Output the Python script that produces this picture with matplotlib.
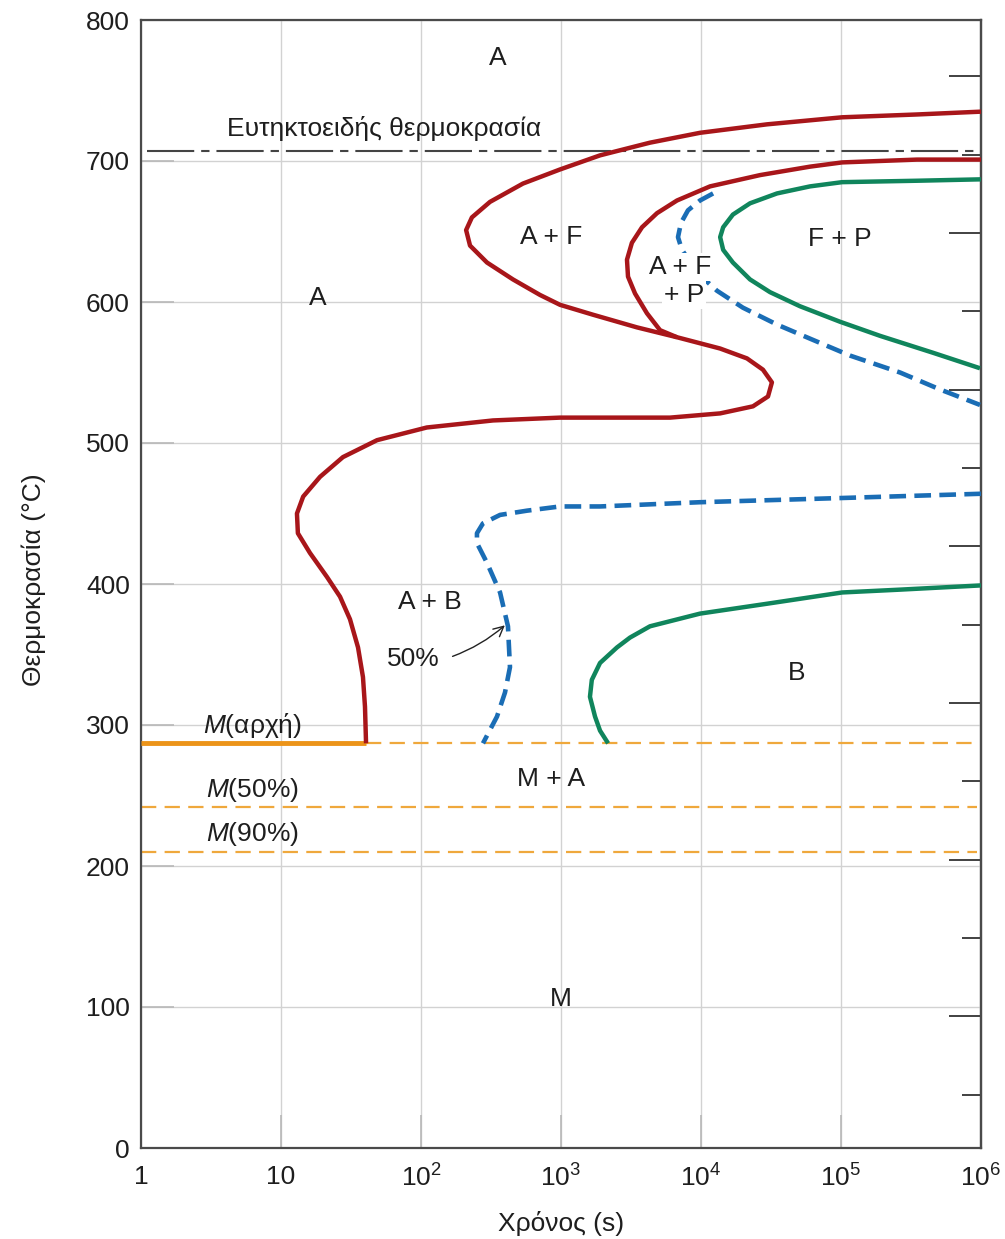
import numpy as np
import matplotlib
matplotlib.use("Agg")
import matplotlib.pyplot as plt
from matplotlib.ticker import FixedLocator, FixedFormatter, NullFormatter, NullLocator

plt.rcParams['font.family'] = ['Liberation Sans', 'DejaVu Sans']
plt.rcParams['mathtext.fontset'] = 'custom'
plt.rcParams['mathtext.rm'] = 'Liberation Sans'
plt.rcParams['mathtext.it'] = 'Liberation Sans:italic'
plt.rcParams['lines.scale_dashes'] = False

# ferrite start, running on into the bainite start (one curve)
start_t = [1e6, 3.49e5, 1.02e5, 2.96e4, 9840, 4320, 1900, 984, 535, 311, 231, 210, 224,
           296, 454, 708, 984, 1690, 3490, 6740, 1.37e4, 2.13e4, 2.77e4, 3.21e4,
           3.01e4, 2.35e4, 1.37e4, 6010, 984, 327, 110, 48.5, 27.7, 19.0, 14.4,
           13.0, 13.2, 16.1, 21.3, 26.4, 31.1, 35.5, 38.5, 39.8, 40.5]
start_T = [735, 733, 731, 726, 720, 713, 704, 694, 684, 671, 660, 651, 640,
           628, 616, 605, 598, 591, 582, 575, 567, 560, 552, 543,
           533, 526, 521, 518, 518, 516, 511, 502, 490, 476, 462,
           450, 436, 422, 405, 391, 375, 355, 334, 313, 287]

# pearlite start
pearl_t = [1e6, 3.49e5, 1.02e5, 6.01e4, 2.64e4, 1.16e4, 6740, 4850, 3790, 3210,
           2960, 3010, 3380, 4110, 5100, 6740]
pearl_T = [701, 701, 699, 696, 690, 682, 672, 663, 653, 642,
           630, 618, 606, 592, 580, 575]

# 50 % pearlite
p50_t = [1.22e4, 9840, 8070, 7190, 6850, 7310, 9360, 1.30e4, 1.99e4, 3.49e4, 6.01e4,
         1.16e5, 2.64e5, 5.09e5, 9.84e5]
p50_T = [677, 672, 665, 656, 646, 637, 621, 608, 596, 584, 574,
         562, 550, 538, 527]

# ferrite + pearlite finish
fp_t = [1e6, 3.49e5, 1.02e5, 6.01e4, 3.49e4, 2.24e4, 1.69e4, 1.44e4, 1.37e4, 1.44e4,
        1.69e4, 2.24e4, 3.11e4, 5.09e4, 9.84e4, 1.9e5, 4.54e5, 9.84e5]
fp_T = [687, 686, 685, 682, 677, 670, 662, 653, 646, 637,
        628, 616, 607, 597, 586, 576, 564, 553]

# 50 % bainite
b50_t = [1e6, 1.02e5, 9840, 1900, 984, 571, 367, 277, 251, 251, 296, 367, 418, 432,
         398, 349, 277]
b50_T = [464, 461, 458, 455, 455, 452, 449, 443, 436, 429, 415, 394, 370, 341,
         323, 306, 287]

# bainite finish
bf_t = [1e6, 2.64e5, 1.02e5, 2.96e4, 9840, 4320, 3110, 2510, 1900, 1660, 1610,
        1750, 1900, 2170]
bf_T = [399, 396, 394, 386, 379, 370, 362, 355, 344, 332, 320,
        306, 296, 287]

eutectoid_T = 707
ms_T, m50_T, m90_T = 287, 242, 210
ms_end_t = 40.5
line_end_t = 9.4e5

xtick_vals = [1, 10, 1e2, 1e3, 1e4, 1e5, 1e6]
xtick_labels = ['1', '10', r'$\mathregular{10^2}$', r'$\mathregular{10^3}$',
                r'$\mathregular{10^4}$', r'$\mathregular{10^5}$', r'$\mathregular{10^6}$']
ytick_vals = [0, 100, 200, 300, 400, 500, 600, 700, 800]

red = '#A8161A'
green = '#10855C'
blue = '#1A6DB5'
orange = '#EC9419'
orange_light = '#EFA83C'
txt = '#1e1e1e'

fig = plt.figure(figsize=(10.05, 12.39), dpi=100)
ax = fig.add_axes([141 / 1005, 1 - 1148 / 1239, 840 / 1005, 1128 / 1239])
ax.set_xscale('log')
ax.set_xlim(1, 1e6)
ax.set_ylim(0, 800)

ax.set_axisbelow(True)
ax.grid(True, color='#d2d2d2', lw=1.0)
ax.xaxis.set_major_locator(FixedLocator(xtick_vals))
ax.xaxis.set_major_formatter(FixedFormatter(xtick_labels))
ax.xaxis.set_minor_locator(NullLocator())
ax.set_yticks(ytick_vals)
ax.tick_params(axis='both', direction='in', length=24, width=1.2, color='#b8b8b8',
               labelsize=19, labelcolor=txt)
ax.tick_params(axis='x', pad=12)
ax.tick_params(axis='y', pad=8, right=False)
for s in ax.spines.values():
    s.set_color('#4a4a4a')
    s.set_linewidth(1.6)

# Fahrenheit ticks on the right spine, unlabelled
sec = ax.secondary_yaxis('right', functions=(lambda c: c * 9 / 5 + 32, lambda f: (f - 32) * 5 / 9))
sec.set_yticks([200, 400, 600, 800, 1000, 1200, 1400])
sec.set_yticks([100, 300, 500, 700, 900, 1100, 1300, 1500], minor=True)
sec.yaxis.set_major_formatter(NullFormatter())
sec.yaxis.set_minor_formatter(NullFormatter())
sec.tick_params(which='major', direction='in', length=23, width=1.3, color='#333333')
sec.tick_params(which='minor', direction='in', length=14, width=1.3, color='#333333')
sec.spines['right'].set_color('#4a4a4a')
sec.spines['right'].set_linewidth(1.6)

# eutectoid temperature
eut, = ax.plot([1.1, 1e6], [eutectoid_T, eutectoid_T], color='#444444', lw=1.5)
eut.set_dashes([34, 5, 6, 5])

# martensite lines
ax.plot([1, ms_end_t], [ms_T, ms_T], color=orange, lw=3.5, solid_capstyle='butt', zorder=3)
for t0, T in [(ms_end_t, ms_T), (1, m50_T), (1, m90_T)]:
    ln, = ax.plot([t0, line_end_t], [T, T], color=orange_light, lw=1.6)
    ln.set_dashes([11, 6])

kw = dict(lw=3.2, solid_joinstyle='round', solid_capstyle='butt', zorder=4)
ax.plot(start_t, start_T, color=red, **kw)
ax.plot(pearl_t, pearl_T, color=red, **kw)
ax.plot(fp_t, fp_T, color=green, **kw)
ax.plot(bf_t, bf_T, color=green, **kw)
for t, T in [(p50_t, p50_T), (b50_t, b50_T)]:
    ln, = ax.plot(t, T, color=blue, lw=3.3, zorder=4, dash_capstyle='butt',
                  dash_joinstyle='round')
    ln.set_dashes([12, 6])

fs = 19
ax.text(355, 773, 'A', fontsize=fs, color=txt, ha='center', va='center')
ax.text(54.4, 723, 'Ευτηκτοειδής θερμοκρασία', fontsize=fs, color=txt, ha='center', va='center')
ax.text(849, 646, 'A + F', fontsize=fs, color=txt, ha='center', va='center')
ax.text(18.4, 603, 'A', fontsize=fs, color=txt, ha='center', va='center')
wb = dict(fc='white', ec='none', pad=1.5)
ax.text(7100, 625, 'A + F', fontsize=fs, color=txt, ha='center', va='center', bbox=wb, zorder=5)
ax.text(7560, 605, '+ P', fontsize=fs, color=txt, ha='center', va='center', bbox=wb, zorder=5)
ax.text(98400, 645, 'F + P', fontsize=fs, color=txt, ha='center', va='center')
ax.text(116, 387, 'A + B', fontsize=fs, color=txt, ha='center', va='center')
ax.text(87.7, 347, '50%', fontsize=fs, color=txt, ha='center', va='center')
ax.text(48500, 337, 'B', fontsize=fs, color=txt, ha='center', va='center')
ax.text(6.2, 300, r'$M$(αρχή)', fontsize=fs, color=txt, ha='center', va='center')
ax.text(6.2, 254, r'$M$(50%)', fontsize=fs, color=txt, ha='center', va='center')
ax.text(6.2, 223, r'$M$(90%)', fontsize=fs, color=txt, ha='center', va='center')
ax.text(849, 262, 'M + A', fontsize=fs, color=txt, ha='center', va='center')
ax.text(1000, 106, 'M', fontsize=fs, color=txt, ha='center', va='center')

ax.annotate('', xy=(411, 372), xytext=(161, 348),
            arrowprops=dict(arrowstyle='->', color='#222222', lw=1.0,
                            connectionstyle='arc3,rad=0.1', mutation_scale=18))

ax.set_xlabel('Χρόνος (s)', fontsize=fs, color=txt)
ax.set_ylabel('Θερμοκρασία (°C)', fontsize=fs, color=txt)
ax.xaxis.set_label_coords(0.5, -0.056)
ax.yaxis.set_label_coords(-0.113, 0.5035)

fig.savefig('out.png', dpi=100, facecolor='white')
